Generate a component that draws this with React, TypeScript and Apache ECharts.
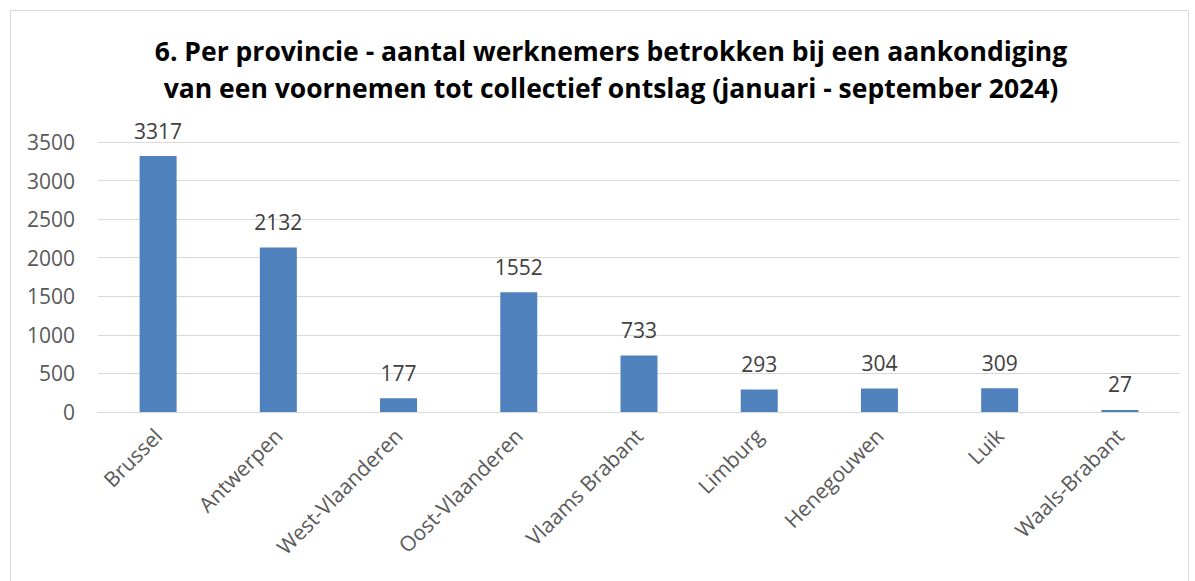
import React, { useEffect, useRef } from "react";
import * as echarts from "echarts";

const categories = ["Brussel", "Antwerpen", "West-Vlaanderen", "Oost-Vlaanderen", "Vlaams Brabant", "Limburg", "Henegouwen", "Luik", "Waals-Brabant"];
const values = [3317, 2132, 177, 1552, 733, 293, 304, 309, 27];
const titleText = "6. Per provincie - aantal werknemers betrokken bij een aankondiging\nvan een voornemen tot collectief ontslag (januari - september 2024)";

export default function App() {
  const ref = useRef<HTMLDivElement>(null);
  useEffect(() => {
    const chart = echarts.init(ref.current!, null, { renderer: "svg" });
    chart.setOption({
      animation: false,
      backgroundColor: "#fff",
      title: {
        text: titleText,
        left: 606,
        textAlign: "center",
        top: 27,
        textStyle: { fontFamily: "Open Sans", fontWeight: "bold", fontSize: 26.5, lineHeight: 37, color: "#000" },
      },
      graphic: [
        { type: "rect", shape: { x: 10.5, y: 10.5, width: 1178, height: 600 }, style: { fill: "none", stroke: "#D9D9D9", lineWidth: 1 }, silent: true },
      ],
      grid: { left: 98, right: 15, top: 142, bottom: 169 },
      xAxis: {
        type: "category",
        data: categories,
        axisLine: { lineStyle: { color: "#D9D9D9", width: 1 } },
        axisTick: { show: false },
        axisLabel: { rotate: 45, fontFamily: "Open Sans", fontSize: 21, color: "#595959", margin: 20, interval: 0 },
      },
      yAxis: {
        type: "value",
        min: 0,
        max: 3500,
        interval: 500,
        axisLine: { show: false },
        axisTick: { show: false },
        splitLine: { lineStyle: { color: "#D9D9D9", width: 1 } },
        axisLabel: { fontFamily: "Open Sans", fontSize: 21, color: "#595959", margin: 23, formatter: (v: number) => String(v) },
      },
      series: [
        {
          type: "bar",
          data: values,
          barWidth: 37,
          itemStyle: { color: "#4F81BD" },
          label: { show: true, position: "top", distance: 15, fontFamily: "Open Sans", fontSize: 21, color: "#404040" },
        },
      ],
    });
    return () => chart.dispose();
  }, []);
  return <div ref={ref} style={{ position: "fixed", left: 0, top: 0, width: 1195, height: 581 }} />;
}
